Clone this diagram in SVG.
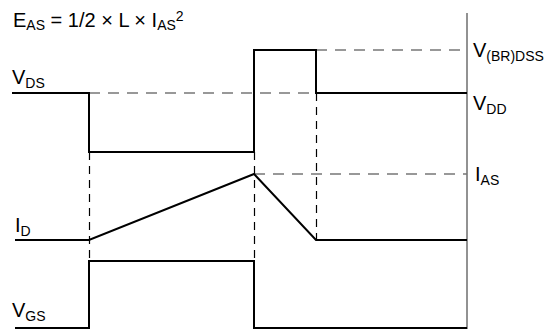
<svg xmlns="http://www.w3.org/2000/svg" width="552" height="329" viewBox="0 0 552 329">
<style>
text{font-family:"Liberation Sans",Arial,sans-serif;font-size:20px;fill:#000}
.sub{font-size:14px}
.w{fill:none;stroke:#000;stroke-width:2;stroke-linejoin:miter}
.gd{fill:none;stroke:#777;stroke-width:1.6;stroke-dasharray:11 8}
.vd{fill:none;stroke:#000;stroke-width:1.2;stroke-dasharray:8 6}
.ax{fill:none;stroke:#777;stroke-width:1.6}
</style>
<rect width="552" height="329" fill="#fff"/>
<g id="connectors">
<line class="ax" x1="467" y1="13" x2="467" y2="329"/>
<line class="gd" x1="89" y1="93" x2="316" y2="93"/>
<line class="gd" x1="316" y1="50" x2="467" y2="50"/>
<line class="gd" x1="254" y1="174" x2="467" y2="174"/>
<line class="vd" x1="89.5" y1="152" x2="89.5" y2="261"/>
<line class="vd" x1="254.5" y1="152" x2="254.5" y2="261"/>
<line class="vd" x1="316.5" y1="93" x2="316.5" y2="240"/>
</g>
<g id="vds">
<polyline class="w" points="12,93 89,93 89,152 254,152 254,50 316,50 316,93 467,93"/>
<text x="12" y="84">V<tspan class="sub" dy="4">DS</tspan></text>
</g>
<g id="id">
<polyline class="w" points="15,240 89,240 254,174 316,240 467,240"/>
<text x="15" y="232">I<tspan class="sub" dy="4">D</tspan></text>
</g>
<g id="vgs">
<polyline class="w" points="15,328 89,328 89,261 254,261 254,328 467,328"/>
<text x="12" y="317">V<tspan class="sub" dy="4">GS</tspan></text>
</g>
<g id="labels">
<text x="13" y="27">E<tspan class="sub" dy="3">AS</tspan><tspan dy="-3"> = 1/2 × L × I</tspan><tspan class="sub" dy="3">AS</tspan><tspan class="sub" dy="-9">2</tspan></text>
<text x="473" y="57">V<tspan class="sub" dy="4">(BR)DSS</tspan></text>
<text x="473" y="110">V<tspan class="sub" dy="4">DD</tspan></text>
<text x="475" y="181">I<tspan class="sub" dy="4">AS</tspan></text>
</g>
</svg>
